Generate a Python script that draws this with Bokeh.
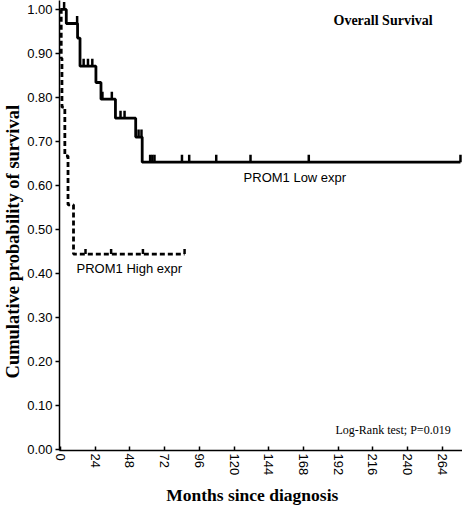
import numpy as np
from bokeh.plotting import figure
from bokeh.models import Range1d, FixedTicker, Label
from bokeh.embed import file_html
from bokeh.resources import INLINE

# ---- data ----
low_event_t = [4, 11.8, 13.5, 24.5, 28, 38, 52, 56.5]
low_event_s = [0.968, 0.935, 0.871, 0.834, 0.796, 0.753, 0.710, 0.653]
low_end = 276.6
low_censor = [2.5, 11.5, 16, 19, 22, 29, 35.5, 41.5, 44.3, 54, 56, 62, 63.5, 65,
              84, 89, 107.7, 131.4, 171.7, 276.6]

high_event_t = [0.5, 1.0, 3.0, 5.2, 9.0]
high_event_s = [0.889, 0.778, 0.667, 0.556, 0.444]
high_end = 85.8
high_censor = [17.3, 35, 57, 85.8]

x_ticks = [0, 24, 48, 72, 96, 120, 144, 168, 192, 216, 240, 264]
y_ticks = [0.0, 0.1, 0.2, 0.3, 0.4, 0.5, 0.6, 0.7, 0.8, 0.9, 1.0]

SERIF = "Liberation Serif"
SANS = "Liberation Sans"
NB = "\u00a0"

p = figure(width=462, height=508, output_backend="svg", toolbar_location=None,
           x_range=Range1d(-0.69, 278), y_range=Range1d(-0.00226, 1.0203),
           min_border_left=58, min_border_right=0, min_border_top=0,
           min_border_bottom=55)
p.outline_line_color = None
p.xgrid.visible = False
p.ygrid.visible = False
p.background_fill_color = "white"
p.border_fill_color = "white"


def step_xy(ev_t, ev_s, end):
    xs = [0.0] + list(ev_t) + [end]
    ys = [1.0] + list(ev_s) + [ev_s[-1]]
    return xs, ys


def censor_y(ev_t, ev_s, cens):
    t = np.array(ev_t)
    s = np.array([1.0] + list(ev_s))
    idx = np.searchsorted(t, np.array(cens), side="right")
    return s[idx]


lx, ly = step_xy(low_event_t, low_event_s, low_end)
hx, hy = step_xy(high_event_t, high_event_s, high_end)

p.step(hx, hy, mode="after", line_color="black", line_width=2.8, line_dash="5 3")
p.step(lx, ly, mode="after", line_color="black", line_width=2.8)

tick_h = 0.017
lcy = censor_y(low_event_t, low_event_s, low_censor)
hcy = censor_y(high_event_t, high_event_s, high_censor)
p.segment(x0=low_censor, y0=lcy, x1=low_censor, y1=lcy + tick_h,
          line_color="black", line_width=2.5)
p.segment(x0=high_censor, y0=hcy, x1=high_censor, y1=hcy + tick_h * 0.7,
          line_color="black", line_width=2.5)

# ---- axes ----
xa = p.xaxis[0]
xa.ticker = FixedTicker(ticks=x_ticks)
xa.major_label_orientation = -np.pi / 2
xa.major_label_text_font = SANS
xa.major_label_text_font_size = "13px"
xa.major_label_text_color = "black"
xa.major_tick_in = 4
xa.major_tick_out = 0
xa.minor_tick_line_color = None
xa.axis_line_width = 1.5
xa.axis_line_color = "black"
xa.major_tick_line_width = 1.5
xa.major_label_standoff = 3
xa.axis_label = "Months since diagnosis" + NB * 4
xa.axis_label_text_font = SERIF
xa.axis_label_text_font_style = "bold"
xa.axis_label_text_font_size = "17.5px"
xa.axis_label_text_color = "black"
xa.axis_label_standoff = 7

ya = p.yaxis[0]
ya.ticker = FixedTicker(ticks=y_ticks)
ya.major_label_overrides = {v: f"{v:.2f}" for v in y_ticks}
ya.major_label_text_font = SANS
ya.major_label_text_font_size = "13px"
ya.major_label_text_color = "black"
ya.major_tick_in = 0
ya.major_tick_out = 4
ya.minor_tick_line_color = None
ya.axis_line_width = 1.5
ya.axis_line_color = "black"
ya.major_tick_line_width = 1.5
ya.major_label_standoff = 3
ya.axis_label = "Cumulative probability of survival" + NB * 7
ya.axis_label_text_font = SERIF
ya.axis_label_text_font_style = "bold"
ya.axis_label_text_font_size = "18.5px"
ya.axis_label_text_color = "black"
ya.axis_label_standoff = 1

# ---- annotations ----
p.add_layout(Label(x=126.6, y=0.6185, text="PROM1 Low expr", text_font=SANS,
                   text_font_size="13px", text_baseline="middle", text_color="black"))
p.add_layout(Label(x=11.1, y=0.411, text="PROM1 High expr", text_font=SANS,
                   text_font_size="13px", text_baseline="middle", text_color="black"))
p.add_layout(Label(x=188.8, y=0.975, text="Overall Survival", text_font=SERIF,
                   text_font_style="bold", text_font_size="14px",
                   text_baseline="middle", text_color="black"))
p.add_layout(Label(x=190.2, y=0.0436, text="Log-Rank test; P=0.019", text_font=SERIF,
                   text_font_size="12px", text_baseline="middle", text_color="black"))

open("out.html", "w").write(file_html(p, INLINE))
